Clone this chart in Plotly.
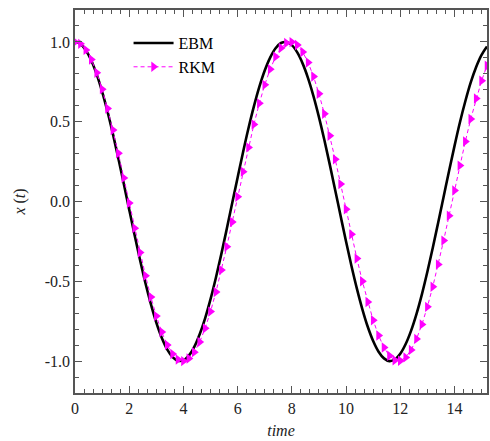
import plotly.graph_objects as go

# time samples (step 0.2)
time = [round(0.2 * i, 1) for i in range(77)]

ebm = [1.000, 0.987, 0.948, 0.884, 0.797, 0.689, 0.563, 0.422, 0.270, 0.111,
       -0.051, -0.211, -0.366, -0.512, -0.643, -0.759, -0.854, -0.927, -0.975, -0.998,
       -0.995, -0.966, -0.911, -0.832, -0.732, -0.612, -0.476, -0.328, -0.171, -0.010,
       0.151, 0.309, 0.459, 0.596, 0.718, 0.821, 0.902, 0.960, 0.993, 0.999,
       0.980, 0.934, 0.864, 0.772, 0.659, 0.529, 0.385, 0.231, 0.071, -0.091,
       -0.251, -0.404, -0.546, -0.674, -0.785, -0.874, -0.941, -0.983, -1.000, -0.990,
       -0.954, -0.893, -0.809, -0.704, -0.580, -0.440, -0.290, -0.131, 0.030, 0.191,
       0.347, 0.495, 0.628, 0.746, 0.843, 0.919, 0.971]

rkm = [1.000, 0.988, 0.950, 0.890, 0.807, 0.704, 0.583, 0.448, 0.302, 0.148,
       -0.010, -0.167, -0.320, -0.465, -0.599, -0.718, -0.818, -0.899, -0.956, -0.990,
       -1.000, -0.984, -0.944, -0.880, -0.795, -0.690, -0.567, -0.430, -0.283, -0.128,
       0.030, 0.187, 0.339, 0.483, 0.615, 0.731, 0.829, 0.907, 0.962, 0.993,
       0.999, 0.981, 0.937, 0.871, 0.783, 0.675, 0.550, 0.412, 0.264, 0.109,
       -0.049, -0.206, -0.357, -0.500, -0.630, -0.744, -0.840, -0.915, -0.967, -0.995,
       -0.998, -0.977, -0.930, -0.861, -0.770, -0.660, -0.534, -0.394, -0.245, -0.089,
       0.069, 0.225, 0.376, 0.517, 0.645, 0.757, 0.851]

x_tick_vals = [0, 2, 4, 6, 8, 10, 12, 14]
y_tick_vals = [-1.0, -0.5, 0.0, 0.5, 1.0]
y_tick_text = ["-1.0", "-0.5", "0.0", "0.5", "1.0"]

FONT = "Liberation Serif, Times New Roman, serif"
AX = "#555555"

fig = go.Figure()
fig.add_trace(go.Scatter(
    x=time, y=ebm, mode="lines", name="EBM",
    line=dict(color="black", width=2.6, shape="spline"),
))
fig.add_trace(go.Scatter(
    x=time, y=rkm, mode="lines+markers", name="RKM",
    line=dict(color="#FF00FF", width=1, dash="4px,3px"),
    marker=dict(symbol="triangle-right", size=9, color="#FF00FF"),
))

axis_common = dict(
    showline=True, linecolor=AX, linewidth=1.5, mirror="ticks",
    ticks="inside", tickcolor=AX, tickwidth=1.2, ticklen=7,
    showgrid=False, zeroline=False,
    tickfont=dict(family=FONT, size=16, color="#222222"),
)

fig.update_xaxes(
    range=[0, 15.2], tickvals=x_tick_vals,
    minor=dict(dtick=1/3, tick0=0, ticks="inside", ticklen=4, tickcolor=AX, showgrid=False),
    title=dict(text="<i>time</i>", font=dict(family=FONT, size=16, color="#222222"), standoff=9),
    **axis_common,
)
fig.update_yaxes(
    range=[-1.2, 1.2], tickvals=y_tick_vals, ticktext=y_tick_text,
    minor=dict(dtick=0.1, tick0=0, ticks="inside", ticklen=4, tickcolor=AX, showgrid=False),
    title=dict(text="<i>x</i> (<i>t</i>)", font=dict(family=FONT, size=16, color="#222222"), standoff=15),
    **axis_common,
)

fig.update_layout(
    width=490, height=441,
    margin=dict(l=75, r=1, t=10, b=48),
    paper_bgcolor="white", plot_bgcolor="white",
    font=dict(family=FONT, size=16, color="black"),
    legend=dict(x=0.13, y=0.958, xanchor="left", yanchor="top",
                bgcolor="rgba(0,0,0,0)", font=dict(family=FONT, size=16, color="black"),
                tracegroupgap=0, itemwidth=40),
    showlegend=True,
)

fig.write_html("out.html", config={"displayModeBar": False},
               post_script="document.body.style.margin='0px';")
